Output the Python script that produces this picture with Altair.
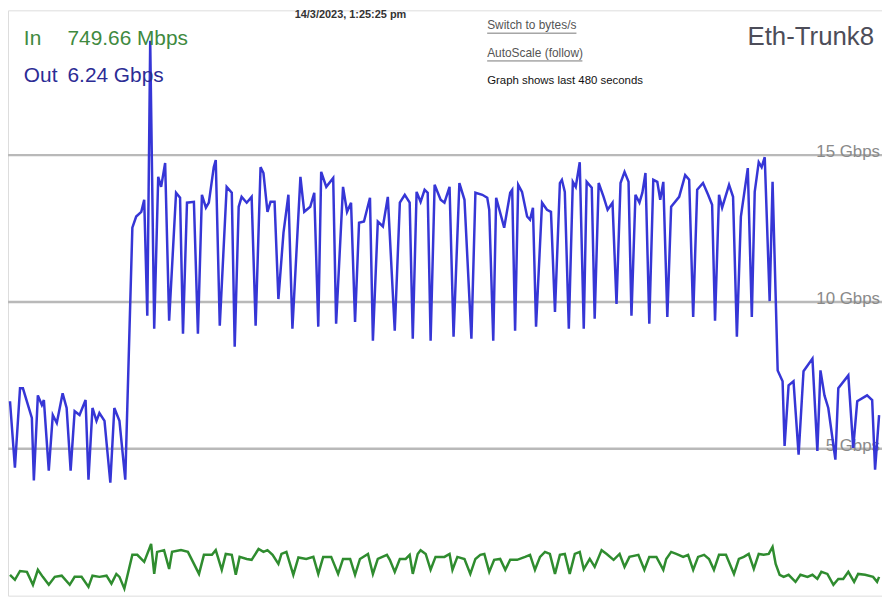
import altair as alt
import pandas as pd

# ---- data (seconds within the 480 s window, Gbps) ----
out_series = [
    (1.1, 6.62), (3.8, 4.36), (6.6, 7.06), (8.2, 7.06), (13.1, 6.05), (14.2, 3.92),
    (16.4, 6.82), (18.6, 6.49), (19.7, 6.66), (22.4, 4.26), (24.6, 6.15), (26.8, 5.88),
    (30.0, 6.89), (32.2, 6.39), (34.4, 4.26), (36.6, 6.28), (39.3, 6.15), (42.6, 6.66),
    (44.2, 3.95), (46.4, 6.39), (48.6, 5.95), (50.2, 6.22), (53.0, 5.95), (56.2, 3.85),
    (58.4, 6.39), (61.2, 5.95), (64.4, 3.95), (68.3, 12.53), (70.4, 12.91), (73.2, 13.07),
    (74.8, 13.48), (76.5, 9.53), (78.1, 18.89), (80.3, 9.09), (82.5, 14.26), (84.1, 13.92),
    (86.3, 14.73), (88.5, 9.36), (92.3, 13.72), (94.5, 13.55), (96.1, 8.92), (98.3, 13.38),
    (102.1, 13.41), (104.3, 8.92), (106.5, 13.65), (108.7, 13.21), (110.3, 13.38), (113.0, 14.59),
    (114.1, 14.83), (116.3, 9.19), (120.1, 13.92), (122.9, 13.72), (124.5, 8.48), (126.7, 13.24),
    (128.3, 13.58), (131.1, 13.38), (133.8, 13.58), (136.0, 9.19), (138.7, 14.59), (140.3, 14.39),
    (142.5, 13.07), (144.2, 13.41), (146.4, 13.41), (148.5, 10.10), (151.3, 12.36), (154.0, 13.65),
    (156.2, 9.09), (160.6, 14.26), (162.7, 13.07), (166.0, 13.24), (168.2, 13.72), (170.4, 9.16),
    (172.0, 14.43), (174.8, 13.92), (178.6, 14.22), (180.2, 9.26), (184.0, 13.92), (186.2, 13.07),
    (188.4, 13.38), (190.6, 9.32), (192.8, 12.70), (195.5, 12.74), (198.8, 13.55), (200.4, 8.68),
    (203.1, 12.74), (205.9, 12.57), (208.6, 13.58), (212.4, 9.02), (215.2, 13.38), (217.9, 13.65),
    (220.6, 13.38), (222.3, 8.75), (224.4, 13.75), (226.6, 13.41), (228.8, 13.82), (230.5, 13.72),
    (232.1, 8.68), (234.3, 13.99), (237.6, 13.48), (239.7, 13.38), (242.5, 13.92), (244.7, 8.82),
    (247.9, 14.05), (250.7, 13.48), (254.5, 8.75), (256.7, 13.72), (260.5, 13.65), (263.2, 13.55),
    (264.3, 13.14), (266.5, 8.68), (268.1, 13.55), (272.5, 12.53), (275.8, 13.72), (276.9, 13.82),
    (278.5, 9.02), (280.2, 13.99), (282.3, 13.75), (285.1, 12.91), (286.7, 12.80), (288.3, 13.21),
    (290.0, 9.16), (293.3, 13.38), (296.0, 13.14), (298.2, 13.07), (300.4, 9.66), (303.1, 14.05),
    (304.2, 14.16), (305.8, 13.75), (308.0, 9.09), (310.2, 14.09), (311.8, 13.92), (314.0, 14.76),
    (316.2, 9.09), (317.8, 14.09), (320.6, 13.89), (322.2, 9.43), (324.4, 14.05), (327.1, 13.58),
    (329.3, 13.14), (332.0, 13.38), (334.2, 9.93), (336.4, 14.05), (338.6, 14.43), (340.8, 14.09),
    (342.4, 9.53), (344.6, 13.65), (346.8, 13.38), (348.4, 13.72), (350.1, 14.39), (352.2, 9.26),
    (354.4, 14.16), (356.6, 14.09), (358.2, 13.48), (359.9, 14.09), (362.1, 9.49), (364.2, 13.24),
    (368.6, 13.58), (371.9, 14.32), (374.1, 14.16), (376.3, 9.49), (378.5, 13.82), (381.7, 14.05),
    (384.5, 13.65), (386.7, 13.31), (388.3, 9.36), (390.5, 13.65), (392.2, 13.21), (396.0, 13.99),
    (398.2, 13.58), (400.3, 8.82), (402.5, 12.91), (406.3, 14.56), (408.5, 9.49), (410.1, 13.75),
    (412.3, 14.76), (413.9, 14.59), (415.6, 14.93), (418.3, 10.03), (419.9, 14.09), (422.7, 7.67),
    (425.4, 7.30), (426.5, 5.10), (428.7, 7.16), (431.4, 7.30), (434.2, 4.80), (436.9, 7.64),
    (441.8, 8.07), (444.5, 4.93), (446.2, 7.67), (448.4, 6.82), (450.5, 6.39), (454.4, 4.63),
    (456.0, 7.06), (461.5, 7.50), (464.2, 5.03), (466.4, 6.62), (471.8, 6.82), (474.6, 6.66),
    (476.2, 4.29), (478.4, 6.15),
]

in_series = [
    (1.1, 0.71), (3.8, 0.54), (6.6, 0.84), (10.4, 0.81), (13.7, 0.37), (16.4, 0.88),
    (19.1, 0.64), (22.4, 0.37), (25.7, 0.64), (29.5, 0.68), (33.9, 0.37), (36.6, 0.64),
    (40.4, 0.64), (44.2, 0.30), (46.4, 0.68), (50.2, 0.64), (54.1, 0.68), (56.8, 0.41),
    (59.5, 0.74), (61.2, 0.64), (63.9, 0.24), (68.3, 1.39), (71.0, 1.39), (74.8, 1.15),
    (78.6, 1.76), (80.3, 0.74), (81.9, 1.49), (85.7, 1.55), (88.5, 0.91), (90.1, 1.49),
    (95.0, 1.55), (98.8, 1.49), (104.9, 0.74), (107.6, 1.39), (112.0, 1.39), (114.1, 1.55),
    (117.4, 0.88), (119.6, 1.42), (122.9, 1.39), (125.1, 0.71), (127.2, 1.32), (131.1, 1.25),
    (133.8, 1.22), (137.6, 1.59), (140.3, 1.49), (142.5, 1.55), (145.3, 1.39), (148.5, 1.08),
    (150.2, 1.42), (152.9, 1.49), (156.7, 0.71), (159.5, 1.30), (163.8, 1.25), (167.7, 1.32),
    (170.4, 0.74), (173.1, 1.32), (177.5, 1.32), (181.3, 0.74), (184.0, 1.25), (187.9, 1.25),
    (190.6, 0.71), (193.3, 1.25), (197.7, 1.42), (200.4, 0.74), (203.1, 1.25), (208.1, 1.39),
    (209.7, 1.22), (212.4, 0.81), (215.2, 1.25), (218.4, 1.25), (220.6, 1.39), (222.3, 0.74),
    (225.0, 1.42), (226.6, 1.55), (229.4, 1.42), (232.1, 0.88), (234.8, 1.32), (239.7, 1.32),
    (242.5, 1.42), (244.1, 0.88), (246.8, 1.32), (250.7, 1.25), (253.9, 0.74), (256.7, 1.25),
    (259.4, 1.39), (261.6, 1.42), (264.3, 0.81), (267.0, 1.22), (270.3, 1.25), (273.1, 0.88),
    (275.8, 1.22), (279.6, 1.22), (284.0, 1.32), (286.7, 1.39), (289.4, 0.88), (292.2, 1.32),
    (294.9, 1.49), (297.6, 1.42), (300.4, 0.74), (303.1, 1.39), (305.8, 1.42), (308.5, 0.74),
    (311.3, 1.42), (314.0, 1.49), (316.2, 0.90), (319.5, 1.25), (322.2, 0.98), (326.0, 1.55),
    (328.8, 1.42), (332.6, 1.22), (335.9, 1.42), (338.6, 0.98), (341.3, 1.32), (346.2, 1.39),
    (349.5, 0.88), (352.2, 1.32), (356.1, 1.32), (359.9, 0.88), (361.5, 1.25), (364.2, 1.49),
    (367.0, 1.42), (370.8, 1.32), (373.5, 1.39), (376.3, 0.88), (379.0, 1.32), (382.3, 1.39),
    (385.0, 1.25), (387.7, 0.88), (390.5, 1.39), (394.3, 1.39), (398.7, 0.74), (401.4, 1.25),
    (404.1, 1.32), (406.8, 1.42), (409.6, 0.91), (412.3, 1.42), (415.0, 1.39), (417.8, 1.42),
    (419.9, 1.66), (421.6, 1.08), (423.8, 0.71), (426.0, 0.64), (428.7, 0.71), (432.5, 0.47),
    (435.2, 0.71), (439.1, 0.64), (441.8, 0.71), (444.5, 0.57), (446.7, 0.81), (450.0, 0.74),
    (453.3, 0.37), (456.0, 0.57), (458.7, 0.57), (461.5, 0.81), (464.7, 0.47), (466.9, 0.74),
    (470.7, 0.71), (475.1, 0.64), (477.3, 0.47), (478.4, 0.64),
]

grid_values = [5, 10, 15]
grid_labels = ["5 Gbps", "10 Gbps", "15 Gbps"]

in_label = "In"
in_value = "749.66 Mbps"
out_label = "Out"
out_value = "6.24 Gbps"
timestamp = "14/3/2023, 1:25:25 pm"
link_1 = "Switch to bytes/s"
link_2 = "AutoScale (follow)"
window_note = "Graph shows last 480 seconds"
title_text = "Eth-Trunk8"

# ---- build tables ----
out_df = pd.DataFrame(out_series, columns=["t", "v"])
in_df = pd.DataFrame(in_series, columns=["t", "v"])
grid_df = pd.DataFrame({"v": grid_values, "label": grid_labels})

W, H = 881, 590
FONT = "Liberation Sans"

xscale = alt.Scale(domain=[0, 480], nice=False, zero=False)
yscale = alt.Scale(domain=[0, 19.93], nice=False, zero=False)

x_axis = alt.Axis(labels=False, ticks=False, grid=False, title=None,
                  domainColor="#4a4a4a", domainWidth=2)
y_axis = alt.Axis(labels=False, ticks=False, grid=False, title=None,
                  domainColor="#4a4a4a", domainWidth=2)

grid = alt.Chart(grid_df).mark_rule(color="#b9b9b9", strokeWidth=2.5).encode(
    y=alt.Y("v:Q", scale=yscale, axis=None)
)
grid_text = alt.Chart(grid_df).mark_text(
    align="right", baseline="alphabetic", font=FONT, fontSize=17,
    color="#8a8a8a", dy=2
).encode(
    y=alt.Y("v:Q", scale=yscale, axis=None),
    x=alt.value(879),
    text="label:N",
)

in_line = alt.Chart(in_df).mark_line(color="#2f8c2f", strokeWidth=2.5).encode(
    x=alt.X("t:Q", scale=xscale, axis=x_axis),
    y=alt.Y("v:Q", scale=yscale, axis=y_axis),
)
out_line = alt.Chart(out_df).mark_line(color="#3636d6", strokeWidth=2.5).encode(
    x=alt.X("t:Q", scale=xscale, axis=None),
    y=alt.Y("v:Q", scale=yscale, axis=None),
)


def label(text, x, y, size, color, align="left", baseline="alphabetic", weight="normal"):
    return alt.Chart(pd.DataFrame({"s": [text]})).mark_text(
        align=align, baseline=baseline, font=FONT, fontSize=size,
        color=color, fontWeight=weight
    ).encode(x=alt.value(x), y=alt.value(y), text="s:N")


texts = [
    label(in_label, 16, 35, 21, "#3f8a3f"),
    label(in_value, 60, 35, 21, "#3f8a3f"),
    label(out_label, 16, 72, 21, "#2c2c95"),
    label(out_value, 60, 72, 21, "#2c2c95"),
    label(timestamp, 289, 5, 11, "#333333", baseline="middle", weight="bold"),
    label(link_1, 483, 15, 12, "#555555", baseline="middle"),
    label(link_2, 483, 43, 12, "#555555", baseline="middle"),
    label(window_note, 483, 71, 11.5, "#111111", baseline="middle"),
    label(title_text, 873, 27, 26, "#4d4d59", align="right", baseline="middle"),
]

underline_1 = alt.Chart(pd.DataFrame({"s": [link_1]})).mark_rule(
    color="#777777", strokeWidth=1).encode(x=alt.value(483), x2=alt.value(573), y=alt.value(23))
underline_2 = alt.Chart(pd.DataFrame({"s": [link_2]})).mark_rule(
    color="#777777", strokeWidth=1).encode(x=alt.value(483), x2=alt.value(579), y=alt.value(51))

chart = alt.layer(
    grid, grid_text, in_line, out_line, underline_1, underline_2, *texts
).properties(
    width=W, height=H, padding=0,
    autosize=alt.AutoSizeParams(type="none"),
).configure_view(stroke=None).configure(background="white")

chart.save("out.html", embed_options={"renderer": "svg", "actions": False})
